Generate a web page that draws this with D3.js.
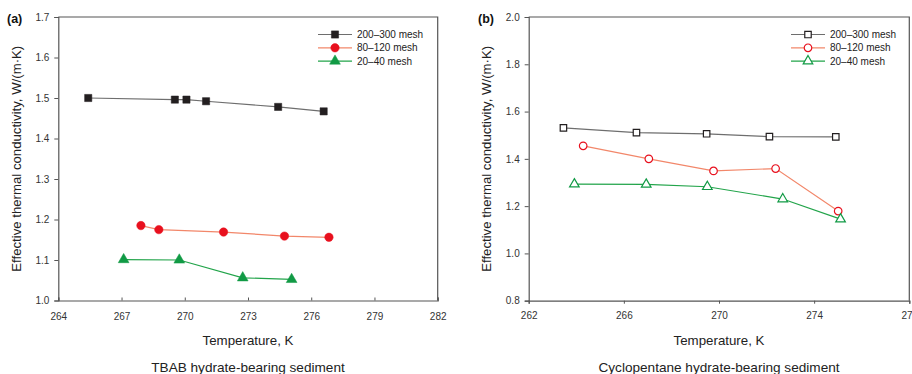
<!DOCTYPE html>
<html>
<head>
<meta charset="utf-8">
<script src="https://cdn.jsdelivr.net/npm/d3@7"></script>
<style>
  html, body { margin: 0; padding: 0; background: #fff; }
  svg { display: block; font-family: "Liberation Sans", Arial, sans-serif; }
</style>
</head>
<body>
<svg id="chart" width="912" height="374"></svg>
<script>
// Series names shared by both panels
const seriesNames = ["200\u2013300 mesh", "80\u2013120 mesh", "20\u201340 mesh"];

// Panel (a): TBAB hydrate-bearing sediment
const tbabTemp200 = [265.42, 269.53, 270.08, 271.01, 274.43, 276.59];
const tbabK200    = [1.500, 1.496, 1.496, 1.492, 1.478, 1.467];
const tbabTemp80  = [267.92, 268.77, 271.84, 274.73, 276.84];
const tbabK80     = [1.185, 1.175, 1.169, 1.159, 1.156];
const tbabTemp20  = [267.10, 269.74, 272.75, 275.07];
const tbabK20     = [1.101, 1.100, 1.056, 1.052];
const tbabXTicks  = [264, 267, 270, 273, 276, 279, 282];
const tbabYTicks  = [1.0, 1.1, 1.2, 1.3, 1.4, 1.5, 1.6, 1.7];

// Panel (b): Cyclopentane hydrate-bearing sediment
const cpTemp200 = [263.46, 266.53, 269.48, 272.12, 274.91];
const cpK200    = [1.531, 1.511, 1.506, 1.494, 1.493];
const cpTemp80  = [264.29, 267.05, 269.77, 272.38, 275.01];
const cpK80     = [1.455, 1.400, 1.349, 1.359, 1.179];
const cpTemp20  = [263.92, 266.94, 269.51, 272.68, 275.11];
const cpK20     = [1.293, 1.292, 1.282, 1.230, 1.145];
const cpXTicks  = [262, 266, 270, 274, 278];
const cpYTicks  = [0.8, 1.0, 1.2, 1.4, 1.6, 1.8, 2.0];

const svg = d3.select("#chart");

const styles = [
  { line: "#6e6e6e", marker: "#231f20", shape: d3.symbolSquare,   size: 52 },
  { line: "#f2876a", marker: "#e8101e", shape: d3.symbolCircle,   size: 56 },
  { line: "#22a44a", marker: "#119a45", shape: d3.symbolTriangle, size: 50 }
];

function drawPanel(cfg) {
  const g = svg.append("g");
  const x = d3.scaleLinear().domain(cfg.xDomain).range([cfg.left, cfg.right]);
  const y = d3.scaleLinear().domain(cfg.yDomain).range([cfg.bottom, cfg.top]);

  // frame: top and right edges
  g.append("path")
    .attr("d", `M${cfg.left},${cfg.top}H${cfg.right}V${cfg.bottom}`)
    .attr("fill", "none").attr("stroke", "#555").attr("stroke-width", 1.2);

  const yAxis = g.append("g")
    .attr("transform", `translate(${cfg.left},0)`)
    .call(d3.axisLeft(y).tickValues(cfg.yTicks).tickFormat(d3.format(".1f")).tickSize(4).tickPadding(5));
  const xAxis = g.append("g")
    .attr("transform", `translate(0,${cfg.bottom})`)
    .call(d3.axisBottom(x).tickValues(cfg.xTicks).tickFormat(d3.format("d")).tickSize(cfg.xTickSize).tickPadding(cfg.xTickSize < 0 ? 12 : 8));
  [yAxis, xAxis].forEach(a => {
    a.select(".domain").attr("stroke", "#555").attr("stroke-width", 1.2);
    a.selectAll(".tick line").attr("stroke", "#555");
    a.selectAll(".tick text").attr("fill", "#333").style("font-size", "10px")
      .style("font-family", "'Liberation Sans', Arial, sans-serif");
  });

  // series lines and markers
  cfg.series.forEach((s, i) => {
    const st = styles[i];
    const pts = s.t.map((t, j) => [t, s.k[j]]);
    g.append("path")
      .datum(pts)
      .attr("fill", "none")
      .attr("stroke", st.line)
      .attr("stroke-width", 1.2)
      .attr("d", d3.line().x(d => x(d[0])).y(d => y(d[1])));
    g.selectAll(null)
      .data(pts)
      .enter().append("path")
      .attr("transform", d => `translate(${x(d[0])},${y(d[1])})`)
      .attr("d", d3.symbol().type(st.shape).size(cfg.open ? st.size * 0.8 : st.size))
      .attr("fill", cfg.open ? "#fff" : st.marker)
      .attr("stroke", st.marker)
      .attr("stroke-width", cfg.open ? 1.2 : 0.5);
  });

  // legend
  seriesNames.forEach((name, i) => {
    const st = styles[i];
    const ly = cfg.legendY + i * 13.3;
    g.append("line")
      .attr("x1", cfg.legendX).attr("x2", cfg.legendX + 34)
      .attr("y1", ly).attr("y2", ly)
      .attr("stroke", st.line).attr("stroke-width", 1.2);
    g.append("path")
      .attr("transform", `translate(${cfg.legendX + 17},${ly})`)
      .attr("d", d3.symbol().type(st.shape).size(cfg.open ? st.size * 0.8 : st.size))
      .attr("fill", cfg.open ? "#fff" : st.marker)
      .attr("stroke", st.marker)
      .attr("stroke-width", cfg.open ? 1.2 : 0.5);
    g.append("text")
      .attr("x", cfg.legendX + 39).attr("y", ly + 3.5)
      .attr("fill", "#222").style("font-size", "10px")
      .text(name);
  });

  // panel letter
  g.append("text")
    .attr("x", cfg.letterX).attr("y", 23)
    .attr("fill", "#111").style("font-size", "12.5px").style("font-weight", "bold")
    .text(cfg.letter);

  // axis titles
  const cy = (cfg.top + cfg.bottom) / 2;
  g.append("text")
    .attr("transform", `translate(${cfg.yTitleX},${cy}) rotate(-90)`)
    .attr("text-anchor", "middle")
    .attr("fill", "#222").style("font-size", "13.2px")
    .text("Effective thermal conductivity, W/(m\u00b7K)");
  const cx = (cfg.left + cfg.right) / 2;
  g.append("text")
    .attr("x", cx).attr("y", 345)
    .attr("text-anchor", "middle")
    .attr("fill", "#222").style("font-size", "13.3px")
    .text("Temperature, K");
  g.append("text")
    .attr("x", cx).attr("y", 371.5)
    .attr("text-anchor", "middle")
    .attr("fill", "#222").style("font-size", "13.6px")
    .text(cfg.caption);
}

drawPanel({
  left: 58.3, right: 437.7, top: 17, bottom: 300.5,
  xDomain: [264, 282], yDomain: [1.0, 1.7],
  xTicks: tbabXTicks, yTicks: tbabYTicks, xTickSize: -3,
  series: [
    { t: tbabTemp200, k: tbabK200 },
    { t: tbabTemp80,  k: tbabK80 },
    { t: tbabTemp20,  k: tbabK20 }
  ],
  open: false,
  legendX: 318, legendY: 34.5,
  letter: "(a)", letterX: 7, yTitleX: 20.5,
  caption: "TBAB hydrate-bearing sediment"
});

drawPanel({
  left: 528.7, right: 909.3, top: 17, bottom: 300.7,
  xDomain: [262, 278], yDomain: [0.8, 2.0],
  xTicks: cpXTicks, yTicks: cpYTicks, xTickSize: 3,
  series: [
    { t: cpTemp200, k: cpK200 },
    { t: cpTemp80,  k: cpK80 },
    { t: cpTemp20,  k: cpK20 }
  ],
  open: true,
  legendX: 791, legendY: 34.5,
  letter: "(b)", letterX: 478, yTitleX: 490.5,
  caption: "Cyclopentane hydrate-bearing sediment"
});
</script>
</body>
</html>
